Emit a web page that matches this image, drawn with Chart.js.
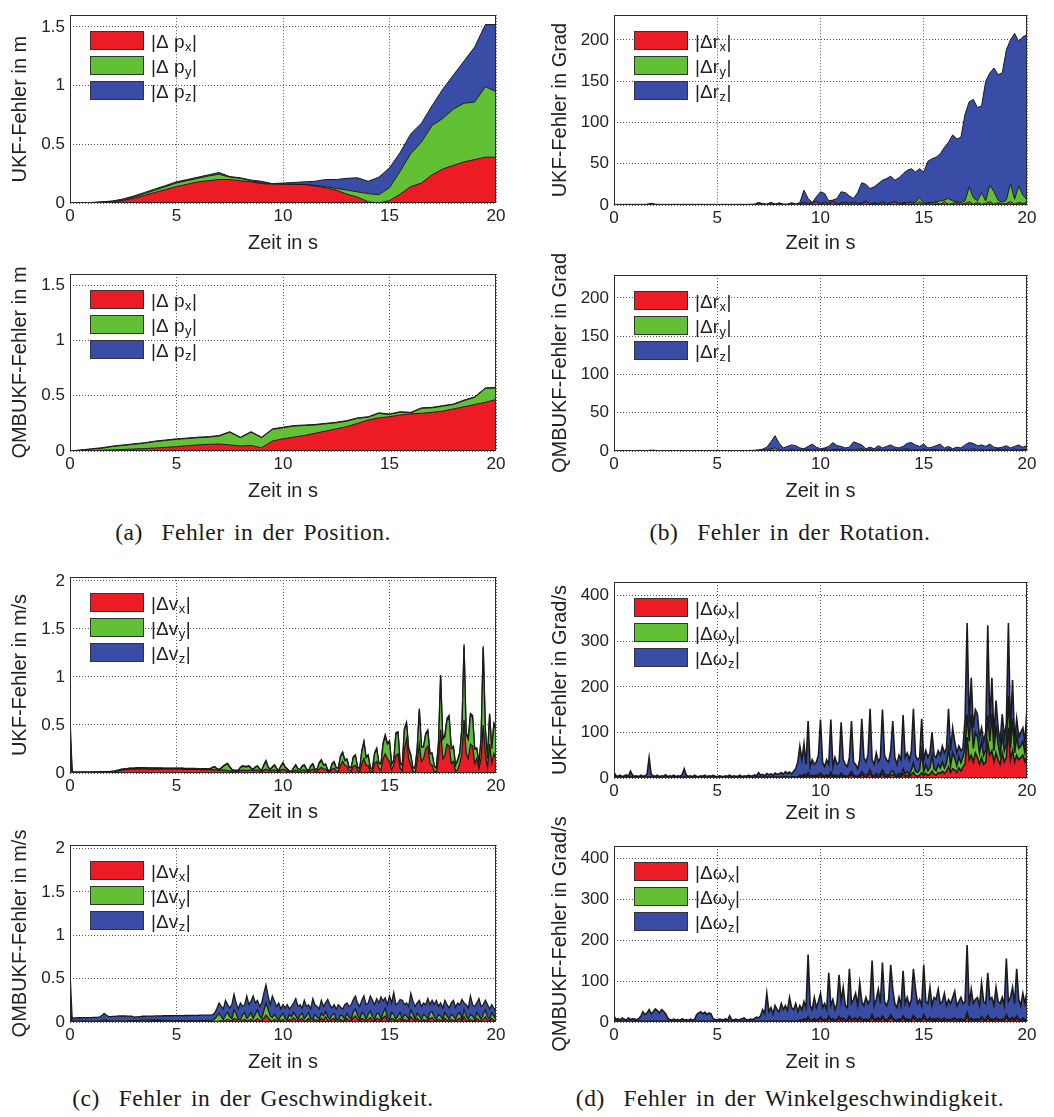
<!DOCTYPE html>
<html>
<head>
<meta charset="utf-8">
<script src="https://cdn.jsdelivr.net/npm/chart.js@4.4.1/dist/chart.umd.min.js"></script>
<style>
html, body { margin: 0; padding: 0; background: #fff; }
#page { position: relative; width: 1054px; height: 1117px; overflow: hidden; background: #fff; }
#page canvas { position: absolute; }
.cap { position: absolute; transform: translate(-50%, -50%); font-family: "Liberation Serif", "DejaVu Serif", serif; font-size: 23.5px; letter-spacing: 0.5px; word-spacing: 3px; color: #1a1a1a; white-space: nowrap; }
</style>
</head>
<body>
<div id="page">
  <div class="cap" style="left:253px; top:532px">(a)&nbsp; Fehler in der Position.</div>
  <div class="cap" style="left:790px; top:532px">(b)&nbsp; Fehler in der Rotation.</div>
  <div class="cap" style="left:253px; top:1098px">(c)&nbsp; Fehler in der Geschwindigkeit.</div>
  <div class="cap" style="left:790px; top:1098px">(d)&nbsp; Fehler in der Winkelgeschwindigkeit.</div>
</div>
<script>
// ---- sampling grids (seconds) ----
function seq(step) { const out = []; const n = Math.round(20 / step); for (let i = 0; i <= n; i++) out.push(Math.round(i * step * 100) / 100); return out; }
const tPos = seq(0.5);   // 41 samples
const tRot = seq(0.2);   // 101 samples
const tFine = seq(0.1);  // 201 samples

// ---- axis ticks ----
const xTicks = [0, 5, 10, 15, 20];
const posTicks = [0, 0.5, 1, 1.5];
const rotTicks = [0, 50, 100, 150, 200];
const velTicks = [0, 0.5, 1, 1.5, 2];
const omgTicks = [0, 100, 200, 300, 400];

// ---- legend labels ----
const posLabels = ['|Δ p_x|', '|Δ p_y|', '|Δ p_z|'];
const rotLabels = ['|Δr_x|', '|Δr_y|', '|Δr_z|'];
const velLabels = ['|Δv_x|', '|Δv_y|', '|Δv_z|'];
const omgLabels = ['|Δω_x|', '|Δω_y|', '|Δω_z|'];

// ---- position error (m), UKF ----
const ukfPosX = [0,0,0.002,0.006,0.012,0.022,0.04,0.065,0.09,0.115,
  0.14,0.16,0.18,0.19,0.2,0.2,0.19,0.18,0.165,0.16,
  0.16,0.158,0.157,0.145,0.13,0.11,0.075,0.05,0.01,0,
  0.02,0.075,0.14,0.17,0.24,0.29,0.32,0.35,0.37,0.39,
  0.39];
const ukfPosY = [0,0,0.001,0.002,0.003,0.006,0.01,0.015,0.02,0.025,
  0.03,0.03,0.03,0.04,0.045,0.02,0.02,0.01,0.005,0.005,
  0,0.002,0.001,0.005,0.01,0.015,0.035,0.045,0.07,0.07,
  0.11,0.195,0.28,0.35,0.42,0.43,0.48,0.5,0.49,0.6,
  0.56];
const ukfPosZ = [0,0.001,0.002,0.002,0.002,0.007,0.01,0.01,0.01,0.01,
  0.01,0.01,0.01,0.01,0.015,0.005,0.005,0.005,0.015,0,
  0.01,0.015,0.022,0.035,0.06,0.075,0.1,0.12,0.105,0.15,
  0.17,0.16,0.17,0.16,0.17,0.25,0.29,0.36,0.47,0.53,
  0.57];

// ---- position error (m), QMBUKF ----
const qmbPosX = [0,0.002,0.004,0.007,0.01,0.014,0.018,0.022,0.027,0.033,
  0.04,0.047,0.055,0.06,0.063,0.055,0.045,0.05,0.03,0.09,
  0.11,0.125,0.14,0.16,0.18,0.2,0.22,0.25,0.28,0.3,
  0.31,0.325,0.337,0.34,0.35,0.36,0.38,0.4,0.42,0.44,
  0.465];
const qmbPosY = [0,0.005,0.012,0.018,0.03,0.036,0.042,0.048,0.058,0.062,
  0.065,0.065,0.065,0.065,0.072,0.115,0.075,0.12,0.09,0.105,
  0.1,0.1,0.09,0.075,0.065,0.055,0.05,0.045,0.025,0.04,
  0.02,0.025,0.008,0.045,0.04,0.045,0.04,0.055,0.065,0.125,
  0.105];
const qmbPosZ = [0,0.003,0.004,0.005,0.005,0.005,0.005,0.005,0.005,0.005,
  0.005,0.005,0.005,0.005,0.005,0.005,0.005,0.005,0.005,0.005,
  0.005,0.005,0.005,0.005,0.005,0.005,0.005,0.005,0.005,0.005,
  0.005,0.005,0.005,0.005,0.005,0.005,0.005,0.005,0.005,0.005,
  0.005];

// ---- rotation error (Grad), UKF ----
const ukfRotX = [0.3,0.3,0.3,0.3,0.3,0.3,0.3,0.3,0.4,1.2,
  0.4,0.3,0.3,0.3,0.3,0.3,0.3,0.3,0.3,0.3,
  0.3,0.3,0.3,0.3,0.3,0.3,0.3,0.3,0.3,0.3,
  0.3,0.3,0.3,0.4,0.5,2.5,1,0.5,2.5,0.5,
  2,0.5,0.5,2,0.5,1,3,1,2,4,
  1,3,1,4,1,2,3,1,3,1,
  2,4,1,2,1,3,1,2,4,1,
  2,1,3,1,4,1,2,1,3,1,
  4,1,2,3,1,2,4,1,3,1,
  2,4,1,3,1,2,4,1,3,2,
  3];
const ukfRotY = [0.3,0.3,0.3,0.3,0.3,0.3,0.3,0.3,0.3,0.3,
  0.3,0.3,0.3,0.3,0.3,0.3,0.3,0.3,0.3,0.3,
  0.3,0.3,0.3,0.3,0.3,0.3,0.3,0.3,0.3,0.3,
  0.3,0.3,0.3,0.3,0.3,0.3,0.3,0.3,0.3,0.3,
  0.3,0.3,0.3,0.3,0.3,0.5,0.5,1,0.5,1,
  0.5,1,0.5,1,0.5,1,0.5,1,0.5,1,
  0.5,1,0.5,1,0.5,1,0.5,1,0.5,1,
  1,2,1,2,5,1,1,2,1,4,
  2,7,3,1,2,3,18,8,2,14,
  3,20,15,3,2,4,22,6,20,10,
  3];
const ukfRotZ = [0.2,0.2,0.2,0.2,0.2,0.2,0.2,0.2,0.2,0.5,
  0.2,0.2,0.2,0.2,0.2,0.2,0.2,0.2,0.2,0.2,
  0.2,0.2,0.2,0.2,0.2,0.2,0.2,0.2,0.2,0.2,
  0.2,0.2,0.2,0.2,0.2,0.3,0.3,0.3,0.3,0.3,
  0.3,0.3,0.3,0.3,0.5,1.5,14.5,6,0.5,5,
  14.5,10,3.5,1,6.5,13,11.5,9,4.5,13,
  24.5,20,18.5,19,24.5,26,30.5,32,25.5,31,
  35,39,40,37,35,38,50,53,54,57,
  64,68,80,76,79,105,103,119,113,105,
  145,136,150,152,157,182,174,201,175,192,
  200];

// ---- rotation error (Grad), QMBUKF ----
const qmbRotX = [0.2,0.2,0.2,0.2,0.2,0.2,0.2,0.2,0.2,0.2,
  0.2,0.2,0.2,0.2,0.2,0.2,0.2,0.2,0.2,0.2,
  0.2,0.2,0.2,0.2,0.2,0.2,0.2,0.2,0.2,0.2,
  0.2,0.2,0.2,0.2,0.2,0.5,1,0.5,1.5,1,
  0.5,1,0.5,1.5,0.5,1,0.5,1.5,0.5,1,
  0.5,2,0.5,1,0.5,1.5,0.5,1,0.5,1,
  2,0.5,1,0.5,1.5,0.5,1,0.5,1.5,0.5,
  1,2,0.5,1,0.5,1.5,0.5,1,0.5,1,
  0.5,2,0.5,1,0.5,1,0.5,1.5,0.5,1,
  0.5,1,0.5,2,0.5,1,0.5,1.5,0.5,1,
  0.5];
const qmbRotY = [0.2,0.2,0.2,0.2,0.2,0.2,0.2,0.2,0.2,0.2,
  0.2,0.2,0.2,0.2,0.2,0.2,0.2,0.2,0.2,0.2,
  0.2,0.2,0.2,0.2,0.2,0.2,0.2,0.2,0.2,0.2,
  0.2,0.2,0.2,0.2,0.2,0.5,0.5,1,1.5,3,
  1,0.5,1,1,0.5,0.5,1,0.5,1,1.5,
  0.5,1,0.5,1,1.5,1,0.5,1,0.5,1.5,
  1,0.5,1,0.5,1,0.5,1,0.5,1,0.5,
  1.5,1,0.5,1,0.5,1,0.5,1,1.5,0.5,
  1,0.5,1,0.5,1,0.5,1,1.5,0.5,1,
  0.5,1,0.5,1,0.5,1,0.5,1,0.5,1,
  0.5];
const qmbRotZ = [0.1,0.2,0.1,0.3,0.1,0.2,0.4,0.2,0.1,0.8,
  0.4,0.2,0.1,0.2,0.1,0.3,0.1,0.2,0.1,0.2,
  0.1,0.2,0.3,0.1,0.2,0.1,0.2,0.1,0.2,0.1,
  0.2,0.1,0.2,0.4,0.6,0.5,1,3.5,9,16,
  8.5,2.5,4.5,5.5,6,2.5,1.5,4,7.5,2.5,
  2,1,5,9,5,3.5,3,3,11,7.5,
  5,2,3,2,4.5,3,4,7,2.5,3,
  3.5,7,10,6,5,6.5,3,3,5,7.5,
  2.5,3.5,1.5,3.5,2.5,6.5,9.5,7,6,6,
  5,7,4,1,4,5,3,3.5,7,3,
  6];

// ---- velocity error (m/s), UKF ----
const ukfVelX = [0.2,0.005,0.005,0.005,0.005,0.005,0.005,0.005,0.005,0.005,
  0.006,0.006,0.007,0.007,0.008,0.008,0.009,0.009,0.01,0.011,
  0.012,0.015,0.02,0.025,0.03,0.033,0.036,0.038,0.04,0.04,
  0.041,0.042,0.042,0.042,0.042,0.042,0.041,0.041,0.041,0.041,
  0.041,0.041,0.041,0.041,0.04,0.04,0.04,0.04,0.04,0.04,
  0.04,0.04,0.04,0.039,0.039,0.039,0.038,0.038,0.038,0.037,
  0.037,0.037,0.036,0.036,0.035,0.035,0.035,0.034,0.033,0.032,
  0.03,0.03,0.03,0.03,0.025,0.02,0.02,0.02,0.015,0.02,
  0.025,0.03,0.03,0.025,0.03,0.03,0.025,0.03,0.03,0.02,
  0.015,0.03,0.04,0.03,0.02,0.03,0.03,0.025,0.015,0.03,
  0.04,0.03,0.02,0.01,0.01,0.02,0.03,0.02,0.015,0.03,
  0.03,0.02,0.01,0.03,0.04,0.02,0.015,0.04,0.06,0.04,
  0.04,0.02,0.01,0.04,0.05,0.02,0.02,0.08,0.12,0.08,
  0.07,0.03,0.02,0.07,0.08,0.03,0.01,0.1,0.15,0.08,
  0.08,0.02,0.01,0.1,0.12,0.05,0.03,0.15,0.2,0.15,
  0.12,0.03,0.08,0.18,0.2,0.05,0.02,0.25,0.35,0.15,
  0.08,0.02,0,0.12,0.3,0.12,0.15,0.25,0.28,0.1,
  0.08,0.02,0.01,0.15,0.45,0.15,0.18,0.3,0.28,0.1,
  0.12,0.02,0.03,0.1,0.2,0.55,0.2,0.15,0.3,0.28,
  0.1,0.15,0.05,0.15,0.5,0.2,0.05,0.3,0.1,0.2,
  0.15];
const ukfVelY = [0.25,0.003,0.003,0.003,0.003,0.003,0.003,0.003,0.003,0.003,
  0.003,0.003,0.003,0.003,0.003,0.003,0.003,0.003,0.003,0.003,
  0.004,0.004,0.005,0.005,0.006,0.006,0.007,0.007,0.008,0.008,
  0.008,0.009,0.01,0.01,0.01,0.01,0.01,0.009,0.009,0.009,
  0.008,0.008,0.008,0.008,0.008,0.008,0.008,0.008,0.008,0.008,
  0.008,0.008,0.008,0.008,0.007,0.007,0.007,0.007,0.007,0.007,
  0.006,0.006,0.006,0.006,0.006,0.008,0.01,0.025,0.03,0.01,
  0.005,0.02,0.04,0.055,0.07,0.04,0.015,0.005,0.01,0.005,
  0.03,0.04,0.035,0.04,0.04,0.02,0.01,0.03,0.04,0.02,
  0.01,0.05,0.08,0.03,0.015,0.03,0.05,0.02,0.01,0.04,
  0.06,0.03,0.02,0.01,0.005,0.03,0.05,0.02,0.02,0.04,
  0.05,0.02,0.01,0.04,0.05,0.02,0.02,0.06,0.07,0.04,
  0.05,0.01,0.01,0.05,0.06,0.03,0.03,0.09,0.09,0.05,
  0.07,0.03,0.03,0.09,0.1,0.03,0.03,0.12,0.17,0.08,
  0.1,0.03,0.03,0.1,0.13,0.05,0.06,0.15,0.18,0.15,
  0.2,0.06,0.05,0.22,0.22,0.05,0.06,0.2,0.16,0.1,
  0.1,0.03,0.05,0.12,0.35,0.15,0.12,0.15,0.15,0.1,
  0.12,0.05,0.04,0.15,0.55,0.2,0.2,0.25,0.3,0.15,
  0.15,0.06,0.1,0.1,0.25,0.76,0.2,0.2,0.3,0.3,
  0.15,0.1,0.05,0.2,0.8,0.25,0.1,0.3,0.15,0.3,
  0.3];
const ukfVelZ = [0.13,0.002,0.002,0.002,0.002,0.002,0.002,0.002,0.002,0.002,
  0.002,0.002,0.002,0.002,0.002,0.002,0.002,0.002,0.002,0.002,
  0.003,0.003,0.003,0.003,0.003,0.003,0.003,0.003,0.003,0.003,
  0.003,0.003,0.003,0.003,0.003,0.003,0.003,0.003,0.003,0.003,
  0.003,0.003,0.003,0.003,0.003,0.003,0.003,0.003,0.003,0.003,
  0.003,0.003,0.003,0.003,0.003,0.003,0.003,0.003,0.003,0.003,
  0.003,0.003,0.003,0.003,0.003,0.003,0.003,0.003,0.003,0.003,
  0.004,0.005,0.005,0.006,0.005,0.005,0.004,0.004,0.004,0.004,
  0.005,0.005,0.005,0.005,0.005,0.005,0.004,0.005,0.005,0.005,
  0.004,0.006,0.01,0.005,0.004,0.005,0.006,0.005,0.004,0.005,
  0.01,0.005,0.004,0.003,0.003,0.005,0.005,0.004,0.004,0.005,
  0.006,0.004,0.003,0.006,0.008,0.004,0.004,0.008,0.01,0.006,
  0.006,0.004,0.003,0.008,0.01,0.005,0.005,0.01,0.01,0.008,
  0.008,0.005,0.005,0.01,0.01,0.005,0.005,0.01,0.01,0.01,
  0.01,0.005,0.005,0.01,0.01,0.008,0.006,0.015,0.02,0.01,
  0.015,0.006,0.006,0.02,0.01,0.006,0.006,0.015,0.02,0.01,
  0.01,0.005,0.005,0.02,0.02,0.01,0.01,0.015,0.02,0.01,
  0.01,0.005,0.005,0.02,0.02,0.015,0.02,0.02,0.02,0.01,
  0.01,0.006,0.01,0.02,0.03,0.03,0.02,0.02,0.02,0.02,
  0.01,0.01,0.005,0.02,0.02,0.02,0.01,0.02,0.01,0.02,
  0.02];

// ---- velocity error (m/s), QMBUKF ----
const qmbVelX = [0.05,0.003,0.003,0.003,0.003,0.003,0.003,0.003,0.003,0.003,
  0.003,0.003,0.003,0.003,0.004,0.004,0.005,0.005,0.004,0.004,
  0.004,0.004,0.004,0.004,0.004,0.004,0.004,0.004,0.005,0.005,
  0.005,0.005,0.005,0.005,0.006,0.006,0.006,0.006,0.006,0.006,
  0.006,0.006,0.006,0.006,0.006,0.005,0.005,0.005,0.005,0.005,
  0.005,0.005,0.005,0.005,0.005,0.005,0.005,0.005,0.005,0.005,
  0.005,0.005,0.005,0.005,0.005,0.005,0.005,0.005,0.006,0.008,
  0.01,0.015,0.01,0.02,0.03,0.02,0.01,0.04,0.03,0.01,
  0.005,0.02,0.03,0.01,0.02,0.03,0.01,0.02,0.04,0.02,
  0.01,0.04,0.08,0.05,0.02,0.01,0.03,0.02,0.005,0.02,
  0.03,0.01,0.005,0.03,0.02,0.05,0.02,0.005,0.03,0.04,
  0.01,0.02,0.04,0.01,0.005,0.03,0.02,0.01,0.04,0.02,
  0.06,0.02,0.01,0.03,0.04,0.01,0.005,0.03,0.02,0.01,
  0.04,0.02,0.01,0.05,0.07,0.03,0.01,0.04,0.03,0.01,
  0.03,0.05,0.02,0.01,0.04,0.03,0.01,0.05,0.07,0.02,
  0.01,0.04,0.03,0.01,0.02,0.04,0.01,0.03,0.02,0.01,
  0.06,0.03,0.01,0.04,0.02,0.01,0.03,0.02,0.01,0.04,
  0.05,0.02,0.01,0.03,0.02,0.005,0.04,0.02,0.01,0.03,
  0.02,0.01,0.03,0.04,0.01,0.06,0.02,0.01,0.03,0.02,
  0.01,0.04,0.02,0.01,0.03,0.06,0.02,0.01,0.04,0.02,
  0.01];
const qmbVelY = [0.1,0.008,0.008,0.008,0.008,0.008,0.008,0.008,0.008,0.008,
  0.008,0.008,0.008,0.009,0.01,0.015,0.02,0.015,0.01,0.009,
  0.009,0.009,0.009,0.01,0.01,0.01,0.01,0.01,0.01,0.01,
  0.012,0.012,0.012,0.014,0.015,0.015,0.015,0.015,0.014,0.014,
  0.014,0.014,0.014,0.013,0.012,0.012,0.012,0.012,0.012,0.012,
  0.01,0.01,0.01,0.01,0.01,0.01,0.01,0.01,0.01,0.01,
  0.01,0.01,0.01,0.01,0.01,0.01,0.01,0.012,0.03,0.06,
  0.09,0.05,0.02,0.06,0.08,0.04,0.03,0.1,0.07,0.02,
  0.02,0.06,0.08,0.03,0.05,0.08,0.03,0.07,0.1,0.05,
  0.03,0.09,0.14,0.1,0.05,0.04,0.06,0.03,0.02,0.05,
  0.07,0.03,0.02,0.06,0.04,0.06,0.05,0.02,0.05,0.06,
  0.03,0.05,0.07,0.03,0.02,0.06,0.04,0.02,0.06,0.05,
  0.06,0.04,0.02,0.05,0.06,0.02,0.02,0.05,0.05,0.02,
  0.06,0.04,0.02,0.07,0.08,0.05,0.02,0.07,0.06,0.02,
  0.06,0.08,0.04,0.02,0.06,0.07,0.02,0.06,0.09,0.03,
  0.02,0.07,0.06,0.02,0.05,0.07,0.02,0.06,0.05,0.02,
  0.08,0.06,0.02,0.06,0.05,0.02,0.06,0.05,0.02,0.07,
  0.07,0.04,0.02,0.06,0.05,0.02,0.07,0.05,0.02,0.06,
  0.05,0.02,0.06,0.07,0.02,0.08,0.05,0.02,0.06,0.05,
  0.02,0.07,0.05,0.02,0.06,0.08,0.04,0.02,0.07,0.05,
  0.02];
const qmbVelZ = [0.42,0.035,0.036,0.037,0.038,0.038,0.039,0.04,0.04,0.04,
  0.04,0.041,0.042,0.042,0.045,0.055,0.075,0.06,0.05,0.05,
  0.052,0.052,0.055,0.055,0.056,0.055,0.055,0.054,0.053,0.053,
  0.04,0.042,0.043,0.044,0.045,0.045,0.046,0.047,0.048,0.048,
  0.05,0.05,0.05,0.052,0.054,0.055,0.055,0.055,0.056,0.056,
  0.057,0.058,0.058,0.058,0.06,0.06,0.06,0.061,0.062,0.062,
  0.062,0.063,0.064,0.064,0.065,0.065,0.066,0.066,0.07,0.09,
  0.12,0.115,0.12,0.17,0.09,0.1,0.16,0.18,0.12,0.12,
  0.195,0.1,0.09,0.26,0.13,0.13,0.26,0.13,0.11,0.11,
  0.18,0.2,0.21,0.15,0.13,0.25,0.15,0.13,0.195,0.08,
  0.1,0.12,0.175,0.06,0.12,0.11,0.2,0.155,0.12,0.06,
  0.21,0.11,0.09,0.11,0.245,0.11,0.12,0.12,0.15,0.11,
  0.1,0.2,0.17,0.08,0.1,0.12,0.175,0.09,0.08,0.17,
  0.12,0.12,0.17,0.14,0.15,0.14,0.15,0.14,0.21,0.17,
  0.13,0.17,0.19,0.17,0.17,0.12,0.26,0.13,0.12,0.15,
  0.27,0.11,0.25,0.17,0.15,0.15,0.22,0.11,0.15,0.15,
  0.19,0.15,0.15,0.12,0.18,0.15,0.13,0.13,0.24,0.09,
  0.13,0.14,0.22,0.09,0.15,0.135,0.14,0.13,0.13,0.13,
  0.18,0.14,0.13,0.09,0.23,0.08,0.13,0.13,0.21,0.13,
  0.15,0.11,0.2,0.15,0.11,0.11,0.14,0.12,0.09,0.09,
  0.09];

// ---- angular velocity error (Grad/s), UKF ----
const ukfOmgX = [1,1,1,1,1,1,1,1,1,1, 1,1,1,1,1,1,1,1,1,1, 1,1,1,1,1,1,1,1,1,1,
  1,1,1,1,1,1,1,1,1,1, 1,1,1,1,1,1,1,1,1,1, 1,1,1,1,1,1,1,1,1,1,
  1,1,1,1,1,1,1,1,1,1, 1,1,1,1,1,1,1,1,1,1, 1,1,1,1,1,1,1,1,1,1,
  3,2,5,2,6,2,3,2,4,3,
  6,3,2,4,2,7,2,4,3,2,
  6,3,2,2,4,8,3,2,2,3,
  8,4,3,5,10,3,2,5,3,4,
  10,4,3,3,6,8,4,2,5,3,
  10,4,6,3,8,12,5,4,6,12,
  5,10,6,8,15,8,6,12,10,15,
  10,15,25,12,20,18,12,22,15,25,
  30,90,40,50,35,55,45,30,45,30,
  35,77,50,60,35,55,40,30,55,35,
  45,110,40,60,35,50,40,45,50,35,
  50];
const ukfOmgY = [1,1,1,1,1,1,1,1,1,1, 1,1,1,1,1,1,1,1,1,1, 1,1,1,1,1,1,1,1,1,1,
  1,1,1,1,1,1,1,1,1,1, 1,1,1,1,1,1,1,1,1,1, 1,1,1,1,1,1,1,1,1,1,
  1,1,1,1,1,1,1,1,1,1, 1,1,1,1,1,1,1,1,1,1, 1,1,1,1,1,1,1,1,1,1,
  3,2,4,2,6,2,3,2,3,3,
  5,3,2,3,2,6,2,3,2,2,
  5,3,2,2,3,6,3,2,2,3,
  6,3,3,4,8,3,2,5,3,4,
  8,4,3,3,6,8,4,2,5,3,
  10,5,8,4,10,20,10,8,12,45,
  8,20,10,15,35,12,10,18,12,20,
  12,18,40,15,35,25,15,25,18,22,
  35,50,40,90,30,45,45,25,35,20,
  25,60,30,80,25,60,35,20,40,25,
  30,70,25,70,20,40,25,25,30,20,
  40];
const ukfOmgZ = [10,3,2,4,1,3,5,2,13,4,
  2,3,1,4,2,3,6,43,6,3,
  2,4,1,3,2,5,1,3,2,4,
  1,3,2,5,18,4,2,3,1,4,
  2,1,3,2,4,1,3,2,4,2,
  1,3,2,1,3,2,4,1,3,2,
  2,4,1,3,2,4,3,2,5,3,
  10,4,6,3,8,5,7,4,9,6,
  7,10,6,12,8,11,7,13,18,33,
  64,36,66,26,113,21,34,26,28,44,
  117,29,21,33,26,115,21,38,25,31,
  111,34,26,21,38,111,29,26,16,34,
  116,38,29,41,134,34,26,45,29,37,
  132,42,34,29,48,109,37,26,40,34,
  118,36,41,33,42,120,35,28,27,73,
  27,30,29,32,50,30,29,30,28,35,
  33,32,87,33,55,37,28,23,27,18,
  65,200,40,80,45,50,50,35,30,30,
  40,198,40,80,30,55,35,30,45,30,
  45,160,35,85,25,40,25,30,30,25,
  65];

// ---- angular velocity error (Grad/s), QMBUKF ----
const qmbOmgX = [1,1,1,1,1,1,1,1,1,1, 1,1,1,1,1,1,1,1,1,1, 1,1,1,1,1,1,1,1,1,1,
  1,1,1,1,1,1,1,1,1,1, 1,1,1,1,1,1,1,1,1,1, 1,1,1,1,1,1,1,1,1,1,
  1,1,1,1,1,1,1,1,1,1, 1,1,1,1,1,1,1,1,1,1, 1,1,1,1,1,1,1,1,1,1,
  3,2,5,3,8,2,3,6,2,4,
  8,3,4,2,10,3,5,2,4,9,
  4,6,3,2,10,3,5,6,3,8,
  4,3,5,3,4,12,3,5,7,3,
  10,4,3,5,11,6,3,2,5,3,
  10,4,5,3,4,10,6,3,5,3,
  12,4,3,7,3,5,4,6,3,4,
  6,3,4,3,5,6,3,4,5,3,
  4,15,3,6,3,4,5,3,8,4,
  3,10,4,5,3,7,4,3,5,3,
  12,4,5,7,3,10,4,3,6,3,
  6];
const qmbOmgY = [1,1,1,1,1,1,1,1,1,1, 1,1,1,1,1,1,1,1,1,1, 1,1,1,1,1,1,1,1,1,1,
  1,1,1,1,1,1,1,1,1,1, 1,1,1,1,1,1,1,1,1,1, 1,1,1,1,1,1,1,1,1,1,
  1,1,1,1,1,1,1,1,1,1, 1,1,1,1,1,1,1,1,1,1, 1,1,1,1,1,1,1,1,1,1,
  2,2,3,2,5,2,2,3,2,3,
  4,2,3,2,5,2,3,2,3,5,
  3,4,2,2,5,3,3,4,2,4,
  3,2,3,2,3,6,2,3,4,2,
  5,3,2,3,6,4,2,2,3,2,
  5,3,3,2,3,6,4,2,3,2,
  6,3,2,4,2,3,3,4,2,3,
  4,2,3,2,3,4,2,3,3,2,
  3,8,2,4,2,3,3,2,5,3,
  2,6,3,3,2,4,3,2,3,2,
  6,3,3,4,2,5,3,2,4,2,
  3];
const qmbOmgZ = [13,4,6,3,8,5,3,8,4,6,
  5,3,7,12,23,16,20,28,18,23,
  30,26,20,28,24,18,8,4,3,5,
  3,4,2,6,3,4,2,5,3,4,
  16,20,23,18,22,16,20,18,6,4,
  3,5,4,3,6,2,13,4,3,5,
  3,4,6,8,4,3,5,4,6,10,
  8,13,28,18,68,23,33,18,38,28,
  23,43,28,38,26,58,33,28,43,23,
  35,26,42,30,152,36,25,51,31,43,
  58,30,38,26,105,35,47,26,38,101,
  43,75,35,31,115,39,47,60,35,83,
  43,35,52,40,48,132,35,47,69,40,
  130,43,35,47,123,70,40,31,52,35,
  110,38,52,35,48,114,70,40,47,35,
  122,43,40,74,35,52,48,70,40,43,
  60,35,48,40,52,65,35,43,52,40,
  43,165,35,70,40,48,52,35,82,43,
  40,104,48,52,35,74,43,40,52,35,
  137,43,52,74,40,115,48,35,60,40,
  66];

// ---- styling ----
const FILLS = ['#ED1C24', '#62C034', '#3A4DA6'];
const EDGE = '#1b1b1b';
const INK = '#222222';
const GRID = '#5a5a5a';
const SANS = '"Liberation Sans", Arial, Helvetica, sans-serif';

// axes frame + legend with subscripts, drawn on top of the areas
const frameLegend = {
  id: 'frameLegend',
  afterDatasetsDraw(chart) {
    const { ctx, chartArea: a } = chart;
    ctx.save();
    ctx.setLineDash([]);
    ctx.lineWidth = 1;
    ctx.strokeStyle = '#2a2a2a';
    ctx.strokeRect(Math.round(a.left) + 0.5, Math.round(a.top) + 0.5,
                   Math.round(a.right - a.left) - 1, Math.round(a.bottom - a.top) - 1);
    chart.data.datasets.forEach((ds, k) => {
      const bx = Math.round(a.left) + 20, by = Math.round(a.top) + 16 + k * 25;
      ctx.fillStyle = ds.backgroundColor;
      ctx.fillRect(bx, by, 54, 19);
      ctx.strokeStyle = '#333';
      ctx.strokeRect(bx + 0.5, by + 0.5, 53, 18);
      const m = ds.label.match(/^(.*)_(.)(.*)$/);
      const base = by + 17;
      let tx = bx + 61;
      ctx.fillStyle = INK;
      ctx.textBaseline = 'alphabetic';
      ctx.textAlign = 'left';
      ctx.font = '19px ' + SANS;
      ctx.fillText(m[1], tx, base);
      tx += ctx.measureText(m[1]).width + 0.5;
      ctx.font = '13px ' + SANS;
      ctx.fillText(m[2], tx, base + 3);
      tx += ctx.measureText(m[2]).width + 0.5;
      ctx.font = '19px ' + SANS;
      ctx.fillText(m[3], tx, base);
    });
    ctx.restore();
  }
};
Chart.register(frameLegend);

const page = document.getElementById('page');

function panel(p) {
  const cv = document.createElement('canvas');
  cv.width = p.box.w; cv.height = p.box.h;
  cv.style.left = p.box.x + 'px'; cv.style.top = p.box.y + 'px';
  cv.style.width = p.box.w + 'px'; cv.style.height = p.box.h + 'px';
  page.appendChild(cv);
  const yW = p.area.l - p.box.x;
  const xH = p.box.y + p.box.h - p.area.b;
  const gridOpts = { color: GRID, lineWidth: 1, drawTicks: false };
  const borderOpts = { display: false, dash: [1, 2] };
  new Chart(cv, {
    type: 'line',
    data: {
      datasets: p.series.map((vals, k) => ({
        label: p.labels[k],
        data: vals.map((v, i) => ({ x: p.time[i], y: v })),
        backgroundColor: FILLS[k],
        borderColor: EDGE,
        borderWidth: p.edge,
        pointRadius: 0,
        tension: 0,
        fill: k === 0 ? 'origin' : '-1'
      }))
    },
    options: {
      responsive: false,
      animation: false,
      events: [],
      layout: { padding: { left: 0, top: p.area.t - p.box.y, right: p.box.x + p.box.w - p.area.r, bottom: 0 } },
      plugins: { legend: { display: false }, tooltip: { enabled: false } },
      scales: {
        x: {
          type: 'linear', min: 0, max: 20,
          afterBuildTicks: s => { s.ticks = xTicks.map(v => ({ value: v })); },
          afterFit: s => { s.height = xH; },
          grid: gridOpts, border: borderOpts,
          ticks: { color: INK, font: { family: SANS, size: 17 }, padding: 3, maxRotation: 0, autoSkip: false, callback: v => String(v) },
          title: { display: true, text: 'Zeit in s', color: INK, font: { family: SANS, size: 20 }, padding: { top: 0, bottom: p.xPad } }
        },
        y: {
          stacked: true, min: 0, max: p.yMax,
          afterBuildTicks: s => { s.ticks = p.yTicks.map(v => ({ value: v })); },
          afterFit: s => { s.width = yW; },
          grid: gridOpts, border: borderOpts,
          ticks: { color: INK, font: { family: SANS, size: 17 }, padding: 5, autoSkip: false, callback: v => String(v) },
          title: { display: true, text: p.yTitle, color: INK, font: { family: SANS, size: 20 }, padding: { top: 8, bottom: 0 } }
        }
      }
    }
  });
}

// (a) position
panel({ box: { x: 0, y: 0, w: 520, h: 260 }, area: { l: 70, t: 6, r: 496, b: 203 }, xPad: 5, edge: 1,
        time: tPos, series: [ukfPosX, ukfPosY, ukfPosZ], labels: posLabels,
        yMax: 1.6, yTicks: posTicks, yTitle: 'UKF-Fehler in m' });
panel({ box: { x: 0, y: 240, w: 520, h: 270 }, area: { l: 70, t: 274, r: 496, b: 451 }, xPad: 7, edge: 1,
        time: tPos, series: [qmbPosX, qmbPosY, qmbPosZ], labels: posLabels,
        yMax: 1.6, yTicks: posTicks, yTitle: 'QMBUKF-Fehler in m' });
// (b) rotation
panel({ box: { x: 540, y: 0, w: 514, h: 260 }, area: { l: 614, t: 11, r: 1027, b: 205 }, xPad: 5, edge: 1,
        time: tRot, series: [ukfRotX, ukfRotY, ukfRotZ], labels: rotLabels,
        yMax: 230, yTicks: rotTicks, yTitle: 'UKF-Fehler in Grad' });
panel({ box: { x: 540, y: 240, w: 514, h: 270 }, area: { l: 614, t: 275, r: 1027, b: 451 }, xPad: 7, edge: 1,
        time: tRot, series: [qmbRotX, qmbRotY, qmbRotZ], labels: rotLabels,
        yMax: 230, yTicks: rotTicks, yTitle: 'QMBUKF-Fehler in Grad' });
// (c) velocity
panel({ box: { x: 0, y: 550, w: 520, h: 280 }, area: { l: 70, t: 577, r: 496, b: 773 }, xPad: 6, edge: 1.3,
        time: tFine, series: [ukfVelX, ukfVelY, ukfVelZ], labels: velLabels,
        yMax: 2.04, yTicks: velTicks, yTitle: 'UKF-Fehler in m/s' });
panel({ box: { x: 0, y: 815, w: 520, h: 260 }, area: { l: 70, t: 845, r: 496, b: 1022 }, xPad: 1, edge: 1.3,
        time: tFine, series: [qmbVelX, qmbVelY, qmbVelZ], labels: velLabels,
        yMax: 2.04, yTicks: velTicks, yTitle: 'QMBUKF-Fehler in m/s' });
// (d) angular velocity
panel({ box: { x: 540, y: 550, w: 514, h: 280 }, area: { l: 614, t: 582, r: 1027, b: 778 }, xPad: 5, edge: 1.6,
        time: tFine, series: [ukfOmgX, ukfOmgY, ukfOmgZ], labels: omgLabels,
        yMax: 430, yTicks: omgTicks, yTitle: 'UKF-Fehler in Grad/s' });
panel({ box: { x: 540, y: 815, w: 514, h: 260 }, area: { l: 614, t: 846, r: 1027, b: 1022 }, xPad: 1, edge: 1.6,
        time: tFine, series: [qmbOmgX, qmbOmgY, qmbOmgZ], labels: omgLabels,
        yMax: 430, yTicks: omgTicks, yTitle: 'QMBUKF-Fehler in Grad/s' });
</script>
</body>
</html>
